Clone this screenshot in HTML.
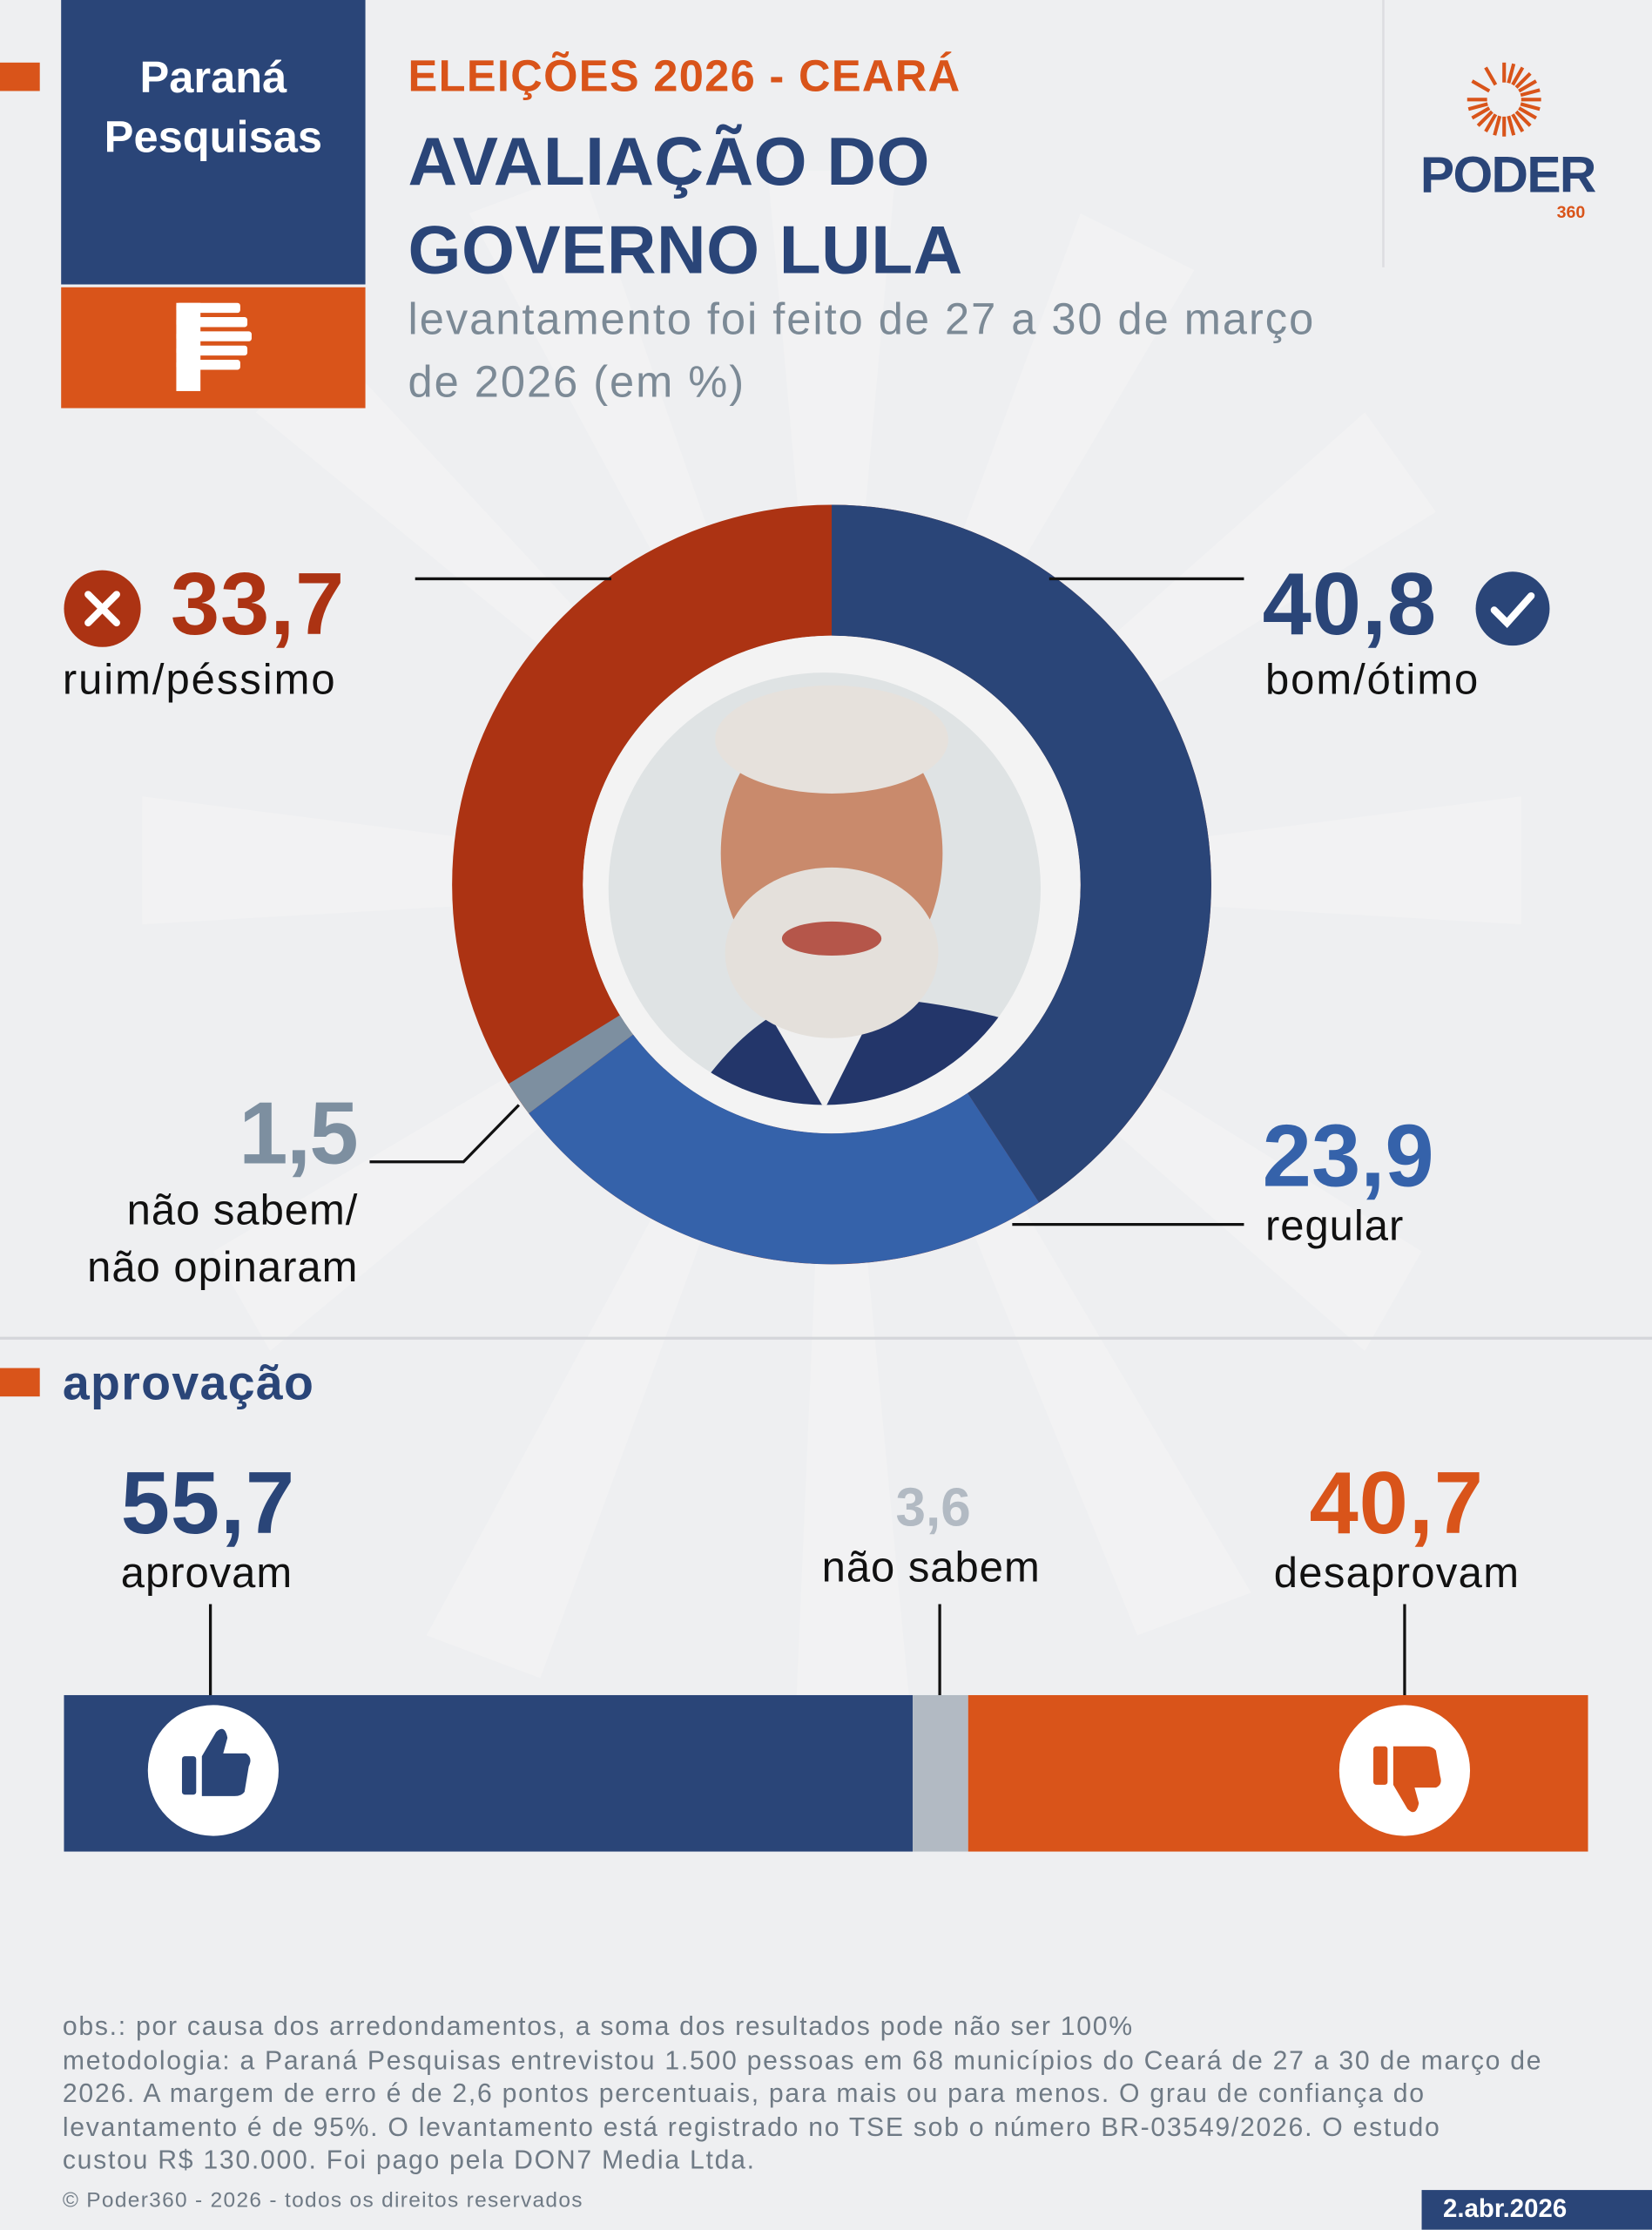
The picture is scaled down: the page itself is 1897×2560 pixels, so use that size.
<!DOCTYPE html>
<html><head><meta charset="utf-8"><style>
html,body{margin:0;padding:0;background:#eeeff1;}
#wrap{width:1162px;height:1568px;position:relative;transform:scale(1.63253);transform-origin:0 0;font-family:"Liberation Sans",sans-serif;overflow:hidden;background:#eeeff1;}
.a{position:absolute;white-space:nowrap;}
.b{font-weight:bold;}
</style></head><body><div id="wrap">
<svg class="a" style="left:0;top:0" width="1162" height="1568">
<g fill="#f2f2f3">
<polygon points="585,622 540,120 630,120"/><polygon points="585,622 760,150 840,190"/>
<polygon points="585,622 960,290 1010,360"/><polygon points="585,622 1070,560 1070,650"/>
<polygon points="585,622 1000,880 960,950"/><polygon points="585,622 330,150 410,120"/>
<polygon points="585,622 180,290 230,240"/><polygon points="585,622 100,560 100,650"/>
<polygon points="585,622 150,880 190,950"/><polygon points="585,622 300,1150 380,1180"/>
<polygon points="585,622 800,1150 880,1120"/><polygon points="585,622 560,1200 640,1200"/>
</g>
<line x1="0" y1="941" x2="1162" y2="941" stroke="#d4d6da" stroke-width="2"/>
<line x1="973" y1="0" x2="973" y2="188" stroke="#dcdde0" stroke-width="1.5"/>
<rect x="0" y="44" width="28" height="20" fill="#d9541a"/>
<rect x="0" y="962" width="28" height="20" fill="#d9541a"/>
<rect x="43" y="0" width="214" height="200" fill="#2a4578"/>
<rect x="43" y="202" width="214" height="85" fill="#d9541a"/>
<g fill="#fff"><rect x="124" y="213" width="17" height="62"/><rect x="124" y="213" width="45" height="7" rx="2"/><rect x="124" y="223" width="50" height="7" rx="2"/><rect x="124" y="233" width="53" height="7" rx="2"/><rect x="124" y="243" width="50" height="7" rx="2"/><rect x="124" y="253" width="45" height="7" rx="2"/></g>
<g stroke="#d9541a" stroke-width="2.5" transform="translate(1058,70)">
<g id="ray"><line x1="0" y1="-26" x2="0" y2="-12"/></g>
<use href="#ray" transform="rotate(15)"/><use href="#ray" transform="rotate(30)"/><use href="#ray" transform="rotate(45)"/><use href="#ray" transform="rotate(60)"/><use href="#ray" transform="rotate(75)"/><use href="#ray" transform="rotate(90)"/><use href="#ray" transform="rotate(105)"/><use href="#ray" transform="rotate(120)"/><use href="#ray" transform="rotate(135)"/><use href="#ray" transform="rotate(150)"/><use href="#ray" transform="rotate(165)"/><use href="#ray" transform="rotate(180)"/><use href="#ray" transform="rotate(195)"/><use href="#ray" transform="rotate(210)"/><use href="#ray" transform="rotate(225)"/><use href="#ray" transform="rotate(240)"/><use href="#ray" transform="rotate(255)"/><use href="#ray" transform="rotate(270)"/><use href="#ray" transform="rotate(300)"/><use href="#ray" transform="rotate(330)"/>
</g>
<circle cx="585" cy="622" r="221" fill="none" stroke="#ac3313" stroke-width="92"/>
<g transform="rotate(-90 585 622)" fill="none" stroke-width="92">
<circle cx="585" cy="622" r="221" stroke="#2a4578" stroke-dasharray="566.5 2000"/>
<circle cx="585" cy="622" r="221" stroke="#3562aa" stroke-dasharray="0 566.5 331.9 2000"/>
<circle cx="585" cy="622" r="221" stroke="#7d8fa0" stroke-dasharray="0 898.4 20.8 2000"/>
</g>
<circle cx="585" cy="622" r="175" fill="#f3f3f3"/>
<clipPath id="pc"><circle cx="580" cy="625" r="152"/></clipPath>
<g clip-path="url(#pc)">
<rect x="420" y="470" width="320" height="320" fill="#dfe3e4"/>
<path d="M470 800 Q520 710 580 700 Q650 700 720 720 L740 800Z" fill="#23366a"/>
<path d="M545 720 L580 780 L610 720Z" fill="#f0f0f0"/>
<ellipse cx="585" cy="600" rx="78" ry="100" fill="#c98a6c"/>
<ellipse cx="585" cy="520" rx="82" ry="38" fill="#e6e1dc"/>
<ellipse cx="585" cy="670" rx="75" ry="60" fill="#e4e0db"/>
<ellipse cx="585" cy="660" rx="35" ry="12" fill="#b5564a"/>
</g>
<g stroke="#111" stroke-width="2" fill="none">
<line x1="292" y1="407" x2="430" y2="407"/><line x1="738" y1="407" x2="875" y2="407"/>
<polyline points="260,817 326,817 365,777"/><line x1="712" y1="861" x2="875" y2="861"/>
<line x1="148" y1="1128" x2="148" y2="1192"/><line x1="661" y1="1128" x2="661" y2="1192"/><line x1="988" y1="1128" x2="988" y2="1192"/>
</g>
<circle cx="72" cy="428" r="27" fill="#ac3313"/>
<path d="M62 418 L82 438 M82 418 L62 438" stroke="#fff" stroke-width="5" stroke-linecap="round"/>
<circle cx="1064" cy="428" r="26" fill="#2a4578"/>
<path d="M1051 429 L1060 438 L1077 419" stroke="#fff" stroke-width="5" fill="none" stroke-linecap="round"/>
<rect x="45" y="1192" width="597" height="110" fill="#2a4578"/>
<rect x="642" y="1192" width="39" height="110" fill="#b2bac3"/>
<rect x="681" y="1192" width="436" height="110" fill="#d9541a"/>
<circle cx="150" cy="1245" r="46" fill="#fff"/><circle cx="988" cy="1245" r="46" fill="#fff"/>
<g fill="#2a4578"><rect x="128" y="1235" width="10" height="27" rx="2"/><path d="M142 1235 L152 1218 Q158 1212 160 1222 L157 1233 L173 1233 Q178 1236 175 1242 L172 1260 Q170 1263 165 1263 L142 1263Z"/></g>
<g fill="#d9541a"><rect x="966" y="1228" width="10" height="27" rx="2"/><path d="M980 1228 L1003 1228 Q1008 1228 1010 1231 L1013 1249 Q1015 1255 1010 1257 L995 1257 L998 1268 Q996 1278 990 1272 L980 1255Z"/></g>
<rect x="1000" y="1540" width="162" height="28" fill="#2a4578"/>
</svg>
<div class="a b" style="left:43px;top:34px;width:214px;text-align:center;color:#fff;font-size:31px;line-height:42px;white-space:normal">Paraná<br>Pesquisas</div>
<div class="a b" style="left:287px;top:36px;color:#d9541a;font-size:31px;letter-spacing:0.8px">ELEIÇÕES 2026 - CEARÁ</div>
<div class="a b" style="left:287px;top:84px;color:#2a4578;font-size:48px;line-height:62px;letter-spacing:0.3px">AVALIAÇÃO DO<br>GOVERNO LULA</div>
<div class="a" style="left:287px;top:203px;color:#7c8a96;font-size:31px;line-height:44px;letter-spacing:1.2px">levantamento foi feito de 27 a 30 de março<br>de 2026 (em %)</div>
<div class="a b" style="left:999px;top:102px;color:#2a4578;font-size:36px;letter-spacing:-1px">PODER</div>
<div class="a b" style="left:1095px;top:142px;color:#d9541a;font-size:12px">360</div>
<div class="a b" style="left:120px;top:390px;color:#ac3313;font-size:62px;letter-spacing:0.5px">33,7</div>
<div class="a" style="left:44px;top:462px;color:#111;font-size:30px;letter-spacing:1.2px">ruim/péssimo</div>
<div class="a b" style="left:888px;top:390px;color:#2a4578;font-size:62px;letter-spacing:0.5px">40,8</div>
<div class="a" style="left:890px;top:462px;color:#111;font-size:30px;letter-spacing:1.2px">bom/ótimo</div>
<div class="a b" style="left:168px;top:762px;color:#7d8fa0;font-size:62px;letter-spacing:-1px">1,5</div>
<div class="a" style="left:30px;top:832px;width:222px;text-align:right;color:#111;font-size:30px;line-height:40px;letter-spacing:0.6px">não sabem/<br>não opinaram</div>
<div class="a b" style="left:888px;top:778px;color:#3562aa;font-size:62px;letter-spacing:0px">23,9</div>
<div class="a" style="left:890px;top:846px;color:#111;font-size:30px;letter-spacing:0.6px">regular</div>
<div class="a b" style="left:44px;top:954px;color:#2a4578;font-size:34px;letter-spacing:0.8px">aprovação</div>
<div class="a b" style="left:85px;top:1022px;color:#2a4578;font-size:62px;letter-spacing:0.5px">55,7</div>
<div class="a" style="left:85px;top:1090px;color:#111;font-size:30px;letter-spacing:0.6px">aprovam</div>
<div class="a b" style="left:630px;top:1040px;color:#b2bac3;font-size:38px">3,6</div>
<div class="a" style="left:578px;top:1086px;color:#111;font-size:30px;letter-spacing:0.6px">não sabem</div>
<div class="a b" style="left:921px;top:1022px;color:#d9541a;font-size:62px;letter-spacing:0.5px">40,7</div>
<div class="a" style="left:896px;top:1090px;color:#111;font-size:30px;letter-spacing:0.8px">desaprovam</div>
<div class="a" style="left:44px;top:1413px;color:#6f7a85;font-size:18.5px;line-height:23.5px;letter-spacing:1.05px">obs.: por causa dos arredondamentos, a soma dos resultados pode não ser 100%<br>metodologia: a Paraná Pesquisas entrevistou 1.500 pessoas em 68 municípios do Ceará de 27 a 30 de março de<br>2026. A margem de erro é de 2,6 pontos percentuais, para mais ou para menos. O grau de confiança do<br>levantamento é de 95%. O levantamento está registrado no TSE sob o número BR-03549/2026. O estudo<br>custou R$ 130.000. Foi pago pela DON7 Media Ltda.</div>
<div class="a" style="left:44px;top:1539px;color:#6f7a85;font-size:15px;letter-spacing:0.8px">© Poder360 - 2026 - todos os direitos reservados</div>
<div class="a b" style="left:1015px;top:1543px;color:#fff;font-size:18px">2.abr.2026</div>
</div></body></html>
